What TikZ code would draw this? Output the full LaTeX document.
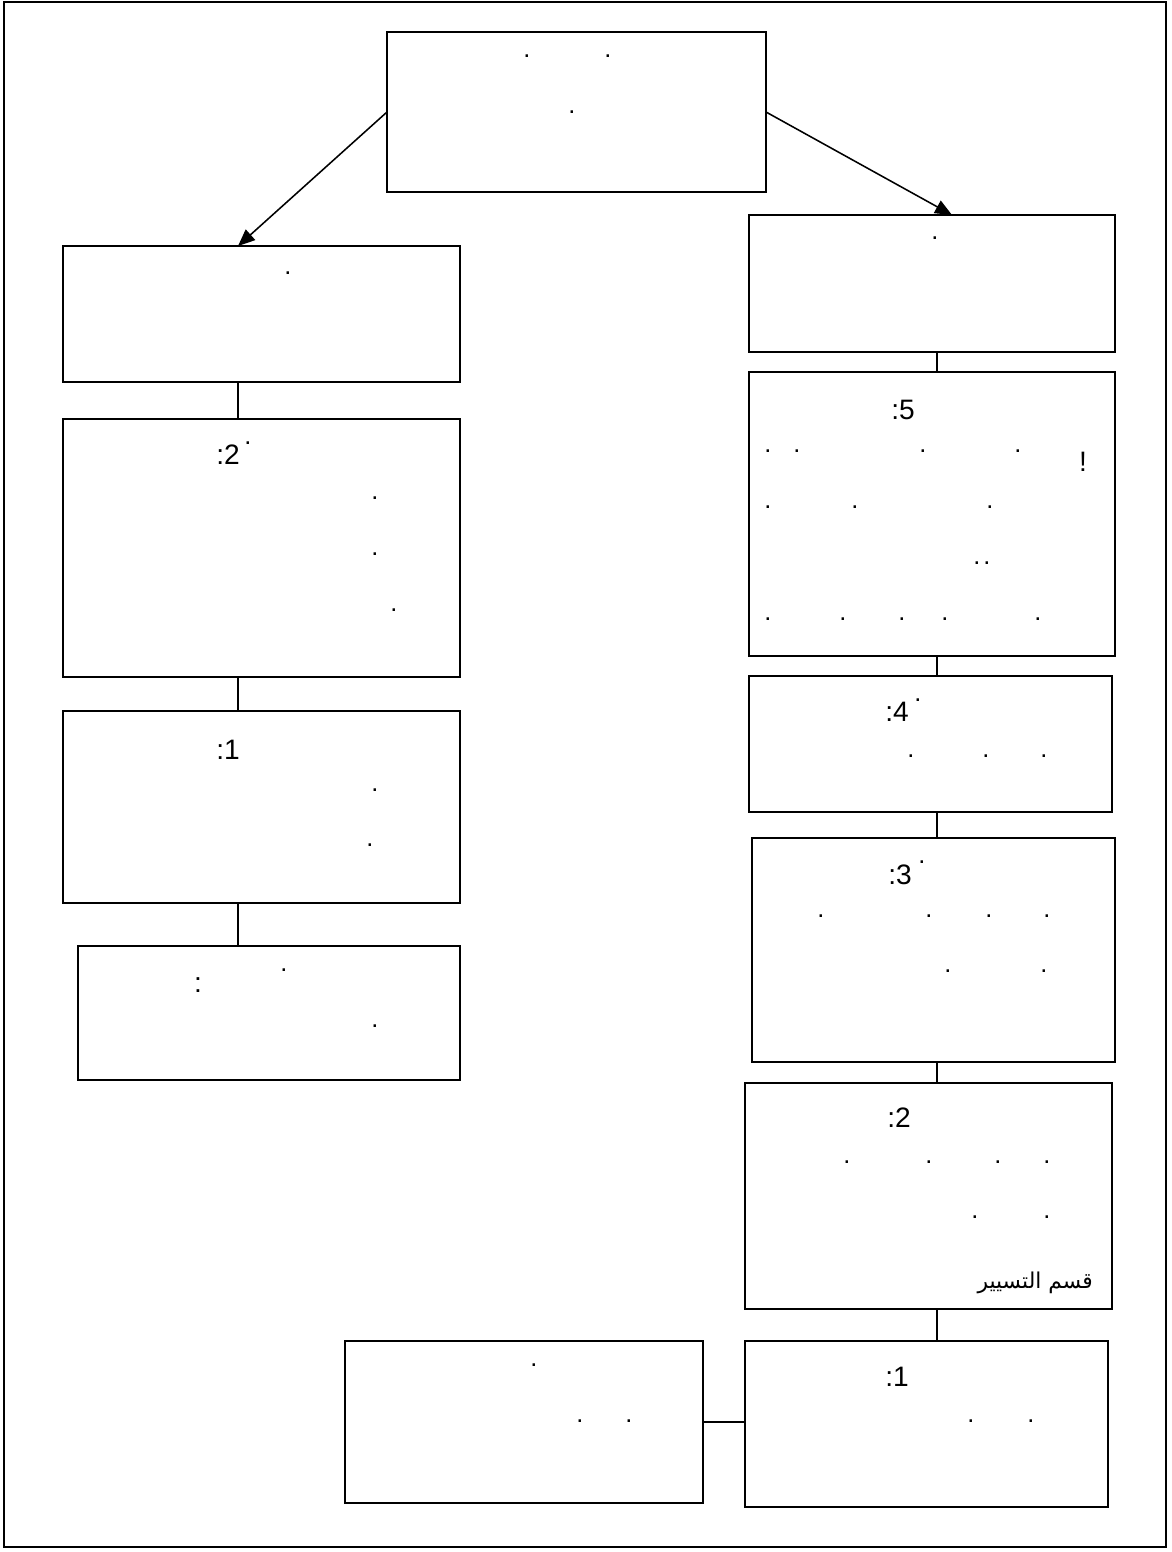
\documentclass[tikz,border=0pt]{standalone}
\usepackage{fontspec}
\setmainfont{Liberation Sans}
\newfontfamily\arabicfont[Script=Arabic]{DejaVu Sans}
\TeXXeTstate=1
\usetikzlibrary{arrows.meta}
\tikzset{
  box/.style 2 args={rectangle, draw=black, line width=1.3pt,
    inner sep=0pt, outer sep=0pt,
    minimum width=#1*0.025cm, minimum height=#2*0.025cm},
  numtext/.style={inner sep=0pt, font=\fontsize{20}{24}\selectfont},
  dotmark/.style={inner sep=0pt, font=\fontsize{18}{22}\selectfont},
  arabtext/.style={inner sep=0pt, font=\fontsize{15.5}{18}\selectfont},
  arrow/.style={-{Triangle[length=12pt,width=10pt]}, line width=1.1pt},
  link/.style={line width=1.3pt}
}

\begin{document}
\begin{tikzpicture}[x=0.025cm, y=-0.025cm]
  \useasboundingbox (0,0) rectangle (1171,1552);
  \draw[link] (4,2) rectangle (1166,1547);

  % boxes
  \node[box={379}{160}] (top) at (576.5,112) {};
  \node[box={397}{136}] (l1) at (261.5,314) {};
  \node[box={397}{258}] (l2) at (261.5,548) {};
  \node[box={397}{192}] (l3) at (261.5,807) {};
  \node[box={382}{134}] (l4) at (269,1013) {};
  \node[box={366}{137}] (r1) at (932,283.5) {};
  \node[box={366}{284}] (r2) at (932,514) {};
  \node[box={363}{136}] (r3) at (930.5,744) {};
  \node[box={363}{224}] (r4) at (933.5,950) {};
  \node[box={367}{226}] (r5) at (928.5,1196) {};
  \node[box={363}{166}] (r6) at (926.5,1424) {};
  \node[box={358}{162}] (bl) at (524,1422) {};

  % texts
  \node[numtext] (l2n) at (228,455) {:2};
  \node[numtext] (l3n) at (228,750) {:1};
  \node[numtext] (l4n) at (198,985) {:};
  \node[numtext] (r2n) at (903,410) {:5};
  \node[numtext] (r2x) at (1083,462) {!};
  \node[numtext] (r3n) at (897,712) {:4};
  \node[numtext] (r4n) at (900,875) {:3};
  \node[numtext] (r5n) at (899,1118) {:2};
  \node[numtext] (r6n) at (897,1377) {:1};
  \node[arabtext, anchor=east] (r5t) at (1093,1283) {\arabicfont\beginR قسم التسيير\endR};

  % dots
  \foreach \x/\y [count=\i] in {527/56, 608/56, 572/112}
    \node[dotmark] (topd\i) at (\x,\y) {.};
  \foreach \x/\y [count=\i] in {288/273, 248/443, 375/498, 375/554, 394/610,
      375/790, 370/845, 284/970, 375/1026}
    \node[dotmark] (ld\i) at (\x,\y) {.};
  \foreach \x/\y [count=\i] in {935/238, 768/451, 797/451, 923/451, 1018/451,
      768/507, 855/507, 990/507, 977/563, 987/563,
      768/619, 843/619, 902/619, 945/619, 1038/619}
    \node[dotmark] (rd\i) at (\x,\y) {.};
  \foreach \x/\y [count=\i] in {918/700, 911/756, 986/756, 1044/756,
      922/862, 821/916, 929/916, 989/916, 1047/916, 948/971, 1044/971,
      847/1162, 929/1162, 998/1162, 1047/1162, 975/1217, 1047/1217,
      971/1421, 1031/1421}
    \node[dotmark] (sd\i) at (\x,\y) {.};
  \foreach \x/\y [count=\i] in {534/1365, 580/1421, 629/1421}
    \node[dotmark] (bd\i) at (\x,\y) {.};

  % connectors
  \coordinate (lx) at (238,0);
  \coordinate (rx) at (937,0);
  \coordinate (ra) at (952,0);
  \draw[arrow] (top.west) -- (l1.north -| lx);
  \draw[arrow] (top.east) -- (r1.north -| ra);
  \draw[link] (l1.south -| lx) -- (l2.north -| lx);
  \draw[link] (l2.south -| lx) -- (l3.north -| lx);
  \draw[link] (l3.south -| lx) -- (l4.north -| lx);
  \draw[link] (r1.south -| rx) -- (r2.north -| rx);
  \draw[link] (r2.south -| rx) -- (r3.north -| rx);
  \draw[link] (r3.south -| rx) -- (r4.north -| rx);
  \draw[link] (r4.south -| rx) -- (r5.north -| rx);
  \draw[link] (r5.south -| rx) -- (r6.north -| rx);
  \draw[link] (bl.east) -- (bl.east -| r6.west);
\end{tikzpicture}
\end{document}
